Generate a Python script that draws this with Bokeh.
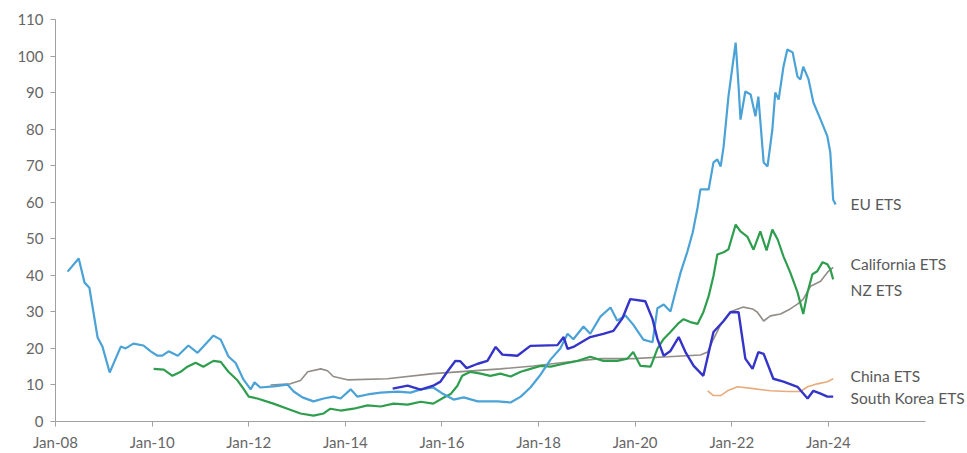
import pandas as pd
from bokeh.plotting import figure
from bokeh.models import Range1d, FixedTicker, DatetimeTickFormatter, Label, ColumnDataSource
from bokeh.embed import file_html
from bokeh.resources import INLINE

# ---- data (time in decimal years, price per tonne) ----
eu_t = [2008.25, 2008.48, 2008.60, 2008.70, 2008.87, 2008.97, 2009.12, 2009.35, 2009.45, 2009.61,
        2009.82, 2009.97, 2010.11, 2010.21, 2010.34, 2010.53, 2010.75, 2010.94, 2011.06, 2011.27,
        2011.42, 2011.58, 2011.73, 2011.89, 2012.04, 2012.12, 2012.24, 2012.51, 2012.80, 2012.93,
        2013.11, 2013.34, 2013.55, 2013.75, 2013.90, 2014.11, 2014.25, 2014.46, 2014.73, 2015.08,
        2015.35, 2015.56, 2015.82, 2016.03, 2016.24, 2016.45, 2016.74, 2017.15, 2017.42, 2017.63,
        2017.83, 2018.04, 2018.25, 2018.45, 2018.60, 2018.72, 2018.93, 2019.07, 2019.28, 2019.49,
        2019.63, 2019.80, 2019.96, 2020.17, 2020.36, 2020.46, 2020.59, 2020.73, 2020.83, 2020.94,
        2021.08, 2021.19, 2021.29, 2021.35, 2021.52, 2021.62, 2021.70, 2021.77, 2021.83, 2021.93,
        2022.08, 2022.14, 2022.18, 2022.28, 2022.39, 2022.49, 2022.55, 2022.66, 2022.74, 2022.84,
        2022.90, 2022.97, 2023.07, 2023.15, 2023.26, 2023.36, 2023.42, 2023.48, 2023.59, 2023.69,
        2023.84, 2023.98, 2024.04, 2024.10, 2024.15]
eu_v = [41.0, 44.6, 38.0, 36.6, 23.0, 20.5, 13.4, 20.5, 20.0, 21.3,
        20.8, 19.2, 18.0, 18.0, 19.2, 18.0, 20.8, 18.8, 20.5, 23.5,
        22.4, 17.8, 16.0, 11.5, 8.8, 10.7, 9.3, 9.6, 10.1, 8.2,
        6.6, 5.5, 6.3, 6.8, 6.3, 8.8, 6.8, 7.4, 7.9, 8.2,
        7.9, 8.8, 9.3, 7.5, 6.0, 6.6, 5.5, 5.5, 5.2, 6.8,
        9.3, 12.8, 17.0, 20.0, 24.0, 22.5, 26.0, 24.0, 28.7, 31.2,
        27.6, 29.0, 26.5, 22.4, 21.7, 31.0, 32.0, 30.1, 35.3, 40.8,
        46.5, 51.7, 58.5, 63.5, 63.5, 70.9, 71.7, 69.8, 75.2, 88.9,
        103.7, 91.7, 82.6, 90.3, 89.5, 83.5, 88.9, 70.9, 69.8, 79.9,
        90.0, 88.1, 97.1, 101.8, 101.0, 94.4, 93.6, 97.1, 93.6, 87.3,
        82.6, 78.0, 73.6, 60.7, 59.4]

ca_t = [2010.03, 2010.24, 2010.42, 2010.59, 2010.73, 2010.90, 2011.06, 2011.27, 2011.42, 2011.58,
        2011.77, 2011.89, 2012.00, 2012.18, 2012.51, 2012.80, 2013.07, 2013.34, 2013.55, 2013.69,
        2013.90, 2014.17, 2014.46, 2014.73, 2015.00, 2015.29, 2015.56, 2015.82, 2016.03, 2016.18,
        2016.32, 2016.42, 2016.59, 2016.80, 2017.00, 2017.21, 2017.42, 2017.63, 2017.83, 2018.04,
        2018.25, 2018.52, 2018.81, 2019.07, 2019.34, 2019.63, 2019.84, 2019.96, 2020.11, 2020.32,
        2020.46, 2020.59, 2020.73, 2020.88, 2021.00, 2021.14, 2021.29, 2021.41, 2021.52, 2021.62,
        2021.70, 2021.83, 2021.93, 2022.08, 2022.18, 2022.32, 2022.45, 2022.59, 2022.72, 2022.84,
        2022.95, 2023.07, 2023.21, 2023.36, 2023.48, 2023.57, 2023.67, 2023.77, 2023.88, 2023.98,
        2024.04, 2024.10]
ca_v = [14.4, 14.2, 12.5, 13.6, 15.0, 16.1, 15.0, 16.6, 16.3, 13.6,
        11.2, 9.0, 6.8, 6.3, 4.9, 3.5, 2.2, 1.6, 2.2, 3.5,
        3.0, 3.5, 4.4, 4.1, 4.9, 4.6, 5.4, 4.9, 6.5, 7.5,
        9.8, 12.5, 13.6, 13.1, 12.5, 13.1, 12.3, 13.6, 14.4, 15.2,
        15.0, 15.8, 16.6, 17.7, 16.6, 16.6, 17.2, 19.0, 15.2, 15.0,
        19.9, 22.6, 24.5, 26.7, 28.0, 27.2, 26.7, 29.9, 34.3, 39.8,
        45.7, 46.3, 47.1, 53.9, 52.0, 50.6, 47.0, 52.0, 46.8, 52.5,
        49.8, 45.2, 40.8, 35.4, 29.4, 35.4, 40.3, 41.1, 43.6, 43.0,
        41.7, 38.9]

nz_t = [2012.45, 2012.86, 2013.07, 2013.22, 2013.49, 2013.63, 2013.75, 2014.04, 2014.87, 2015.82,
        2017.21, 2017.89, 2018.60, 2019.28, 2019.96, 2020.67, 2021.35, 2021.50, 2021.60, 2021.77,
        2021.97, 2022.24, 2022.43, 2022.53, 2022.66, 2022.80, 2023.01, 2023.21, 2023.36, 2023.48,
        2023.63, 2023.84, 2024.00, 2024.10]
nz_v = [10.0, 10.3, 11.2, 13.6, 14.4, 13.9, 12.3, 11.4, 11.7, 13.1,
        14.4, 15.2, 16.3, 17.2, 17.2, 17.7, 18.2, 19.0, 22.0, 26.5,
        30.0, 31.3, 30.8, 29.9, 27.5, 28.9, 29.4, 30.8, 32.1, 33.5,
        37.0, 38.4, 41.1, 42.2]

cn_t = [2021.50, 2021.62, 2021.77, 2021.91, 2022.12, 2022.45, 2022.80, 2023.15, 2023.42, 2023.57,
        2023.77, 2023.98, 2024.10]
cn_v = [8.4, 7.1, 7.1, 8.4, 9.5, 9.0, 8.4, 8.2, 8.2, 9.5,
        10.3, 10.9, 11.7]

kr_t = [2014.98, 2015.29, 2015.56, 2015.82, 2015.97, 2016.11, 2016.28, 2016.38, 2016.51, 2016.74,
        2016.94, 2017.11, 2017.25, 2017.56, 2017.83, 2018.39, 2018.52, 2018.60, 2018.72, 2019.07,
        2019.34, 2019.55, 2019.74, 2019.90, 2020.21, 2020.36, 2020.46, 2020.59, 2020.73, 2020.90,
        2021.04, 2021.21, 2021.41, 2021.62, 2021.83, 2021.97, 2022.14, 2022.28, 2022.43, 2022.55,
        2022.66, 2022.86, 2023.07, 2023.36, 2023.57, 2023.69, 2023.84, 2023.98, 2024.10]
kr_v = [9.0, 9.8, 8.7, 9.8, 10.9, 13.6, 16.6, 16.5, 14.6, 15.8,
        16.6, 20.4, 18.3, 18.0, 20.7, 20.9, 23.1, 19.9, 20.4, 23.1,
        24.0, 24.8, 28.3, 33.5, 32.9, 28.0, 22.6, 18.0, 19.3, 23.1,
        19.0, 15.2, 12.5, 24.5, 27.5, 29.9, 29.9, 17.2, 14.4, 19.0,
        18.5, 11.7, 10.9, 9.5, 6.3, 8.4, 7.6, 6.8, 6.8]

series_names = ["EU ETS", "California ETS", "NZ ETS", "China ETS", "South Korea ETS"]
label_y = [59.4, 43.0, 36.0, 12.5, 6.3]
y_ticks = [0, 10, 20, 30, 40, 50, 60, 70, 80, 90, 100, 110]
x_tick_years = [2008, 2010, 2012, 2014, 2016, 2018, 2020, 2022, 2024]


def to_dt(ty):
    y = int(ty)
    frac = ty - y
    a = pd.Timestamp(year=y, month=1, day=1)
    b = pd.Timestamp(year=y + 1, month=1, day=1)
    return a + (b - a) * frac


def ms(ts):
    return ts.value / 1e6


colors = ["#4aa2d6", "#2e9e4e", "#948c86", "#e8ab7c", "#3434c8"]
widths = [2.2, 2.2, 1.6, 1.6, 2.4]
all_t = [eu_t, ca_t, nz_t, cn_t, kr_t]
all_v = [eu_v, ca_v, nz_v, cn_v, kr_v]

FONT = "Lato"
TXT = "#666666"
AX = "#a0a0a0"

x_start = pd.Timestamp("2008-01-01")
x_axis_end = pd.Timestamp("2026-01-01")
x_end = to_dt(2026.88)

p = figure(width=967, height=453, x_axis_type="datetime",
           x_range=Range1d(ms(x_start), ms(x_end)), y_range=Range1d(0, 110),
           output_backend="svg", toolbar_location=None,
           min_border_left=55, min_border_right=0, min_border_top=19, min_border_bottom=30)
p.outline_line_color = None
p.grid.visible = False

# draw order: orange, grey, green, light blue, dark blue
for i in [3, 2, 1, 0, 4]:
    src = ColumnDataSource(dict(x=[to_dt(t) for t in all_t[i]], y=all_v[i]))
    p.line("x", "y", source=src, line_color=colors[i], line_width=widths[i])

# series labels
lab_x = ms(to_dt(2024.46))
for name, ly in zip(series_names, label_y):
    p.add_layout(Label(x=lab_x, y=ly, text=name, text_font=FONT, text_font_size="15.5px",
                       text_color="#595959", text_baseline="middle", text_align="left"))

xa = p.xaxis[0]
xa.ticker = FixedTicker(ticks=[ms(pd.Timestamp(year=y, month=1, day=1)) for y in x_tick_years])
xa.formatter = DatetimeTickFormatter(years="%b-%y", months="%b-%y", days="%b-%y")
xa.bounds = (ms(x_start), ms(x_axis_end))
ya = p.yaxis[0]
ya.ticker = FixedTicker(ticks=y_ticks)

for ax in (xa, ya):
    ax.axis_line_color = AX
    ax.major_tick_line_color = AX
    ax.minor_tick_line_color = None
    ax.major_tick_in = 0
    ax.major_tick_out = 5
    ax.major_label_text_font = FONT
    ax.major_label_text_font_size = "15px"
    ax.major_label_text_color = TXT
ya.major_label_standoff = 7
xa.major_label_standoff = 6

open("out.html", "w").write(file_html(p, INLINE))
